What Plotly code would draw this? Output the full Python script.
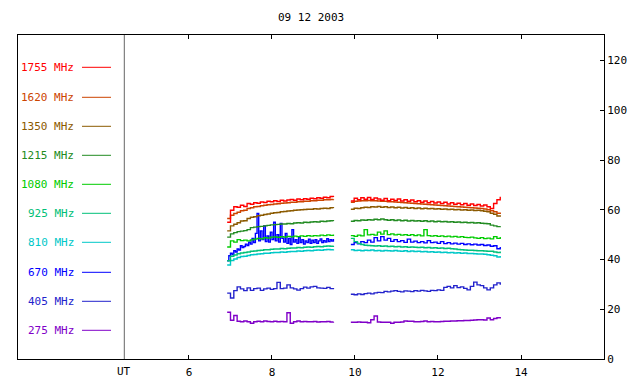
import plotly.graph_objects as go

# ---------------- data ----------------
title_text = "09 12 2003"
x_tick_vals = [6, 8, 10, 12, 14]
y_tick_vals = [0, 20, 40, 60, 80, 100, 120]

t_a = [6.92, 7.00, 7.08, 7.16, 7.24, 7.32, 7.40, 7.48, 7.56, 7.64,
       7.72, 7.80, 7.88, 7.96, 8.04, 8.12, 8.20, 8.28, 8.36, 8.44,
       8.52, 8.60, 8.68, 8.76, 8.84, 8.92, 9.00, 9.08, 9.16, 9.24,
       9.32, 9.40, 9.48]
t_b = [9.90, 9.98, 10.06, 10.14, 10.22, 10.30, 10.38, 10.46, 10.54, 10.62,
       10.70, 10.78, 10.86, 10.94, 11.02, 11.10, 11.18, 11.26, 11.34, 11.42,
       11.50, 11.58, 11.66, 11.74, 11.82, 11.90, 11.98, 12.06, 12.14, 12.22,
       12.30, 12.38, 12.46, 12.54, 12.62, 12.70, 12.78, 12.86, 12.94, 13.02,
       13.10, 13.18, 13.26, 13.34, 13.42, 13.50]
# finer sampling for the spiky 670 MHz channel in the first segment
t_670a = [6.92, 6.96, 7.00, 7.04, 7.08, 7.12, 7.16, 7.20, 7.24, 7.28,
          7.32, 7.36, 7.40, 7.44, 7.48, 7.52, 7.56, 7.60, 7.64, 7.68,
          7.72, 7.76, 7.80, 7.84, 7.88, 7.92, 7.96, 8.00, 8.04, 8.08,
          8.12, 8.16, 8.20, 8.24, 8.28, 8.32, 8.36, 8.40, 8.44, 8.48,
          8.52, 8.56, 8.60, 8.64, 8.68, 8.72, 8.76, 8.80, 8.84, 8.88,
          8.92, 8.96, 9.00, 9.04, 9.08, 9.12, 9.16, 9.20, 9.24, 9.28,
          9.32, 9.36, 9.40, 9.44, 9.48]

f1755_a = [55.0, 59.8, 61.2, 61.0, 61.8, 61.3, 62.5, 62.2, 62.8, 62.6,
           63.1, 62.9, 63.4, 63.2, 63.6, 63.3, 63.8, 63.5, 63.9, 64.1,
           63.8, 64.3, 64.0, 64.4, 64.2, 64.6, 64.4, 64.8, 64.6, 65.0,
           64.8, 65.3, 65.1]
f1755_b = [63.5, 64.6, 64.0, 64.8, 64.2, 64.9, 64.1, 64.7, 64.3, 63.8,
           64.5, 63.6, 64.2, 63.7, 64.3, 63.5, 64.0, 63.4, 63.9, 63.2,
           63.6, 63.0, 63.5, 62.8, 63.3, 62.7, 63.1, 62.5, 63.0, 62.3,
           62.8, 62.2, 62.6, 62.0, 62.5, 61.8, 62.3, 61.7, 62.1, 61.5,
           61.9, 61.2, 60.5, 62.5, 64.0, 65.2]

f1620_a = [56.5, 57.8, 58.5, 59.0, 59.6, 59.8, 60.5, 60.8, 61.2, 61.3,
           61.6, 61.8, 62.0, 62.1, 62.3, 62.4, 62.6, 62.7, 62.8, 63.0,
           63.0, 63.2, 63.2, 63.4, 63.4, 63.6, 63.6, 63.8, 63.8, 64.0,
           64.0, 64.1, 64.2]
f1620_b = [63.0, 63.4, 63.5, 63.6, 63.6, 63.7, 63.6, 63.6, 63.5, 63.4,
           63.4, 63.2, 63.2, 63.1, 63.0, 62.9, 62.8, 62.7, 62.6, 62.5,
           62.4, 62.3, 62.2, 62.1, 62.0, 61.9, 61.8, 61.7, 61.6, 61.5,
           61.4, 61.3, 61.2, 61.1, 61.0, 60.9, 60.8, 60.7, 60.6, 60.5,
           60.3, 60.0, 59.6, 59.2, 58.6, 58.9]

f1350_a = [51.5, 53.5, 54.2, 54.8, 55.5, 55.6, 56.5, 57.0, 57.2, 57.6,
           57.8, 58.1, 58.3, 58.6, 58.8, 58.9, 59.2, 59.3, 59.5, 59.6,
           59.8, 59.9, 60.0, 60.1, 60.2, 60.2, 60.4, 60.3, 60.5, 60.6,
           60.5, 60.8, 60.7]
f1350_b = [60.2, 60.6, 60.5, 60.8, 61.0, 60.9, 61.2, 61.1, 61.3, 61.0,
           61.2, 60.9, 61.1, 60.8, 61.0, 60.7, 60.9, 60.6, 60.8, 60.5,
           60.7, 60.4, 60.6, 60.4, 60.5, 60.3, 60.4, 60.2, 60.3, 60.1,
           60.2, 60.0, 60.1, 59.9, 60.0, 59.8, 59.9, 59.7, 59.8, 59.6,
           59.4, 59.2, 58.6, 58.2, 57.5, 57.2]

f1215_a = [49.0, 50.3, 50.8, 51.2, 51.4, 51.6, 52.0, 52.8, 53.0, 53.2,
           53.3, 53.5, 53.7, 53.9, 54.0, 54.1, 54.3, 54.3, 54.5, 54.4,
           54.7, 54.8, 54.7, 55.0, 54.9, 55.1, 55.2, 55.1, 55.4, 55.3,
           55.5, 55.6, 55.5]
f1215_b = [55.4, 55.7, 55.6, 55.9, 55.8, 56.0, 55.9, 56.2, 56.0, 56.3,
           56.0, 55.8, 56.0, 55.7, 55.9, 55.6, 55.8, 55.5, 55.7, 55.5,
           55.6, 55.4, 55.6, 55.3, 55.5, 55.2, 55.4, 55.2, 55.3, 55.1,
           55.2, 55.0, 55.1, 54.9, 55.0, 54.8, 54.9, 54.7, 54.8, 54.6,
           54.5, 54.4, 53.8, 53.5, 53.2, 53.4]

f1080_a = [45.0, 47.5, 47.0, 48.0, 47.6, 47.8, 47.5, 47.9, 48.2, 48.5,
           48.3, 48.8, 48.6, 49.0, 49.1, 48.9, 49.2, 49.0, 49.3, 49.1,
           49.4, 49.2, 49.5, 49.3, 49.6, 49.4, 49.6, 49.5, 49.8, 49.6,
           49.9, 49.7, 50.0]
f1080_b = [49.6, 49.3, 49.8, 49.5, 52.0, 49.9, 50.1, 49.8, 51.0, 50.2,
           51.5, 50.0, 50.3, 49.9, 50.1, 49.8, 50.0, 49.7, 50.0, 49.6,
           49.9, 49.5, 52.0, 49.6, 49.4, 49.6, 49.3, 49.5, 49.2, 49.4,
           49.1, 49.3, 49.0, 49.2, 48.9, 48.8, 49.0, 48.7, 48.5, 48.8,
           48.4, 48.6, 48.3, 49.2, 48.5, 49.0]

f925_a = [39.5, 41.3, 41.8, 42.3, 42.6, 42.8, 43.0, 43.3, 43.4, 43.6,
          43.7, 43.9, 43.9, 44.1, 44.2, 44.2, 44.4, 44.3, 44.5, 44.6,
          44.6, 44.8, 44.7, 44.9, 45.0, 44.9, 45.1, 45.2, 45.1, 45.3,
          45.4, 45.3, 45.5]
f925_b = [48.5, 47.2, 46.5, 46.0, 45.7, 45.6, 45.5, 45.4, 45.5, 45.3,
          45.4, 45.2, 45.3, 45.1, 45.2, 45.0, 45.1, 44.9, 45.0, 44.9,
          44.8, 44.9, 44.7, 44.8, 44.6, 44.7, 44.5, 44.6, 44.4, 44.5,
          44.3, 44.2, 44.0, 43.9, 43.8, 43.7, 43.7, 43.6, 43.5, 43.5,
          43.4, 43.3, 43.3, 43.0, 42.8, 43.2]

f810_a = [37.8, 39.6, 40.2, 40.8, 41.2, 41.3, 41.6, 41.9, 42.0, 42.2,
          42.3, 42.5, 42.5, 42.7, 42.8, 42.8, 43.0, 42.9, 43.1, 43.2,
          43.2, 43.4, 43.3, 43.5, 43.6, 43.5, 43.7, 43.8, 43.7, 43.9,
          44.0, 43.9, 44.1]
f810_b = [43.9, 43.6, 43.7, 43.5, 43.7, 43.6, 43.8, 43.5, 43.6, 43.4,
          43.6, 43.5, 43.4, 43.6, 43.4, 43.3, 43.5, 43.2, 43.4, 43.2,
          43.3, 43.1, 43.2, 43.0, 43.1, 42.9, 43.0, 42.8, 42.9, 42.7,
          42.8, 42.6, 42.7, 42.5, 42.6, 42.4, 42.4, 42.3, 42.2, 42.2,
          42.1, 41.9, 41.7, 41.5, 41.0, 41.4]

f670_a = [39.5, 41.5, 42.5, 42.0, 43.5, 43.0, 44.2, 43.8, 45.5, 44.8,
          45.2, 46.2, 45.6, 47.0, 46.2, 48.5, 46.8, 50.5, 58.5, 47.5,
          51.5, 48.0, 53.5, 47.2, 49.5, 47.0, 51.0, 48.0, 55.0, 47.5,
          50.0, 47.0, 54.5, 48.5, 47.0, 50.5, 46.5, 48.5, 46.0, 52.0,
          47.0, 48.0, 46.5, 49.0, 46.8, 48.0, 46.2, 47.5, 46.8, 48.2,
          46.5, 47.8, 46.8, 48.0, 46.5, 47.5, 48.3, 46.8, 47.6, 47.0,
          48.4, 47.2, 48.0, 47.4, 48.2]
f670_b = [46.0, 46.8, 46.3, 47.2, 46.8, 47.8, 47.0, 48.8, 47.5, 49.2,
          47.8, 48.5, 47.3, 48.0, 47.2, 47.6, 46.9, 48.2, 47.0, 47.4,
          46.8, 47.2, 46.7, 47.6, 46.8, 47.0, 46.5, 47.2, 46.4, 46.8,
          46.3, 46.6, 46.2, 46.5, 46.0, 46.3, 45.9, 46.2, 45.8, 46.0,
          45.6, 45.8, 45.3, 45.5, 44.3, 45.0]

f405_a = [26.5, 24.5, 27.5, 29.0, 28.2, 27.5, 28.6, 27.6, 28.3, 28.5,
          27.6, 28.2, 28.5, 28.0, 28.3, 30.8, 28.3, 28.5, 29.8, 28.6,
          28.2, 27.7, 28.3, 28.9, 28.5, 29.0, 29.2, 28.6, 28.5, 28.4,
          28.8, 28.3, 28.0]
f405_b = [26.0, 25.8, 26.2, 25.9, 26.3, 26.5, 26.2, 26.6, 26.8, 26.7,
          27.2, 27.0, 27.3, 27.5, 27.2, 27.0, 27.4, 27.3, 27.1, 27.5,
          27.3, 27.6, 27.4, 27.2, 27.6, 27.5, 27.8, 27.6, 28.8, 29.2,
          28.6, 29.5, 28.7, 29.0, 28.4, 27.8, 29.2, 30.9, 29.8, 29.5,
          28.6, 27.8, 28.6, 29.8, 30.6, 29.8]

f275_a = [18.8, 15.6, 17.5, 15.2, 15.0, 15.3, 15.0, 14.4, 15.0, 15.2,
          15.0, 15.3, 15.1, 15.0, 15.2, 15.0, 15.1, 15.0, 18.6, 14.4,
          15.0, 15.3, 15.0, 15.1, 15.0, 15.0, 15.1, 14.9, 15.0, 15.0,
          15.1, 14.9, 15.0]
f275_b = [14.8, 14.8, 14.9, 14.8, 14.8, 14.6, 15.8, 17.3, 14.9, 14.8,
          14.8, 14.8, 14.4, 14.8, 14.8, 14.9, 15.3, 15.2, 15.2, 15.0,
          15.0, 15.1, 15.3, 15.0, 15.1, 15.0, 15.0, 15.1, 15.2, 15.2,
          15.3, 15.3, 15.4, 15.4, 15.5, 15.5, 15.6, 15.7, 15.8, 15.8,
          15.7, 16.5, 15.8, 16.3, 16.6, 16.9]

freq_labels = ["1755 MHz", "1620 MHz", "1350 MHz", "1215 MHz", "1080 MHz",
               "925 MHz", "810 MHz", "670 MHz", "405 MHz", "275 MHz"]
freq_colors = ["#ff0000", "#cc4400", "#8b5a00", "#228b22", "#00cc00",
               "#00c078", "#00c8c8", "#0000ff", "#2222cc", "#8000c8"]
series_a = [f1755_a, f1620_a, f1350_a, f1215_a, f1080_a,
            f925_a, f810_a, f670_a, f405_a, f275_a]
series_b = [f1755_b, f1620_b, f1350_b, f1215_b, f1080_b,
            f925_b, f810_b, f670_b, f405_b, f275_b]
times_a = [t_a, t_a, t_a, t_a, t_a, t_a, t_a, t_670a, t_a, t_a]

for s, t in zip(series_a, times_a):
    assert len(s) == len(t), len(s)
for s in series_b:
    assert len(s) == len(t_b), len(s)

# ---------------- layout geometry (pixels) ----------------
W, H = 640, 384
L, R, T, B = 18, 604, 35, 359
pw, ph = R - L, B - T

def px_x(x):
    return (x - L) / pw

def px_y(y):
    return (B - y) / ph

fig = go.Figure()

# draw from lowest frequency to highest (red on top)
order = [9, 8, 7, 6, 5, 4, 3, 2, 1, 0]
for i in order:
    xs = times_a[i] + [None] + t_b
    ys = series_a[i] + [None] + series_b[i]
    fig.add_trace(go.Scatter(
        x=xs, y=ys, mode="lines", line=dict(color=freq_colors[i], width=1.4, shape="hv"),
        connectgaps=False, showlegend=False, hoverinfo="skip"))

FONT = "DejaVu Sans Mono"

shapes = []
annotations = []
# vertical separator
shapes.append(dict(type="line", xref="paper", yref="paper",
                   x0=px_x(124.3), x1=px_x(124.3), y0=0, y1=1,
                   line=dict(color="#666666", width=1)))
# legend rows
row_y = [67.3, 97.3, 126.3, 155.3, 184.3, 213.3, 242.3, 272.3, 301.3, 330.3]
for lab, col, yy in zip(freq_labels, freq_colors, row_y):
    annotations.append(dict(text=lab, xref="paper", yref="paper",
                            x=px_x(76), y=px_y(yy), xanchor="right", yanchor="middle",
                            showarrow=False, font=dict(family=FONT, size=11, color=col)))
    shapes.append(dict(type="line", xref="paper", yref="paper",
                       x0=px_x(82), x1=px_x(111), y0=px_y(yy), y1=px_y(yy),
                       line=dict(color=col, width=1)))

annotations.append(dict(text=title_text, xref="paper", yref="paper",
                        x=0.5, y=px_y(18), xanchor="center", yanchor="middle",
                        showarrow=False, font=dict(family=FONT, size=11, color="black")))
annotations.append(dict(text="UT", xref="paper", yref="paper",
                        x=px_x(124.3), y=px_y(371), xanchor="center", yanchor="middle",
                        showarrow=False, font=dict(family=FONT, size=11, color="black")))

fig.update_layout(
    template="none",
    width=W, height=H,
    margin=dict(l=L, r=W - R, t=T, b=H - B, pad=0, autoexpand=False),
    paper_bgcolor="white", plot_bgcolor="white",
    font=dict(family=FONT, size=11, color="black"),
    showlegend=False,
    shapes=shapes, annotations=annotations,
    xaxis=dict(range=[1.88, 16.0], tickvals=x_tick_vals, ticks="inside", ticklen=4,
               tickcolor="black", showline=True, linecolor="black", linewidth=1,
               mirror="ticks", showgrid=False, zeroline=False, automargin=False,
               ticklabelstandoff=3,
               tickfont=dict(family=FONT, size=11, color="black")),
    yaxis=dict(range=[0, 130.25], tickvals=y_tick_vals, side="right", ticks="inside",
               ticklen=4, tickcolor="black", showline=True, linecolor="black", linewidth=1,
               mirror=True, showgrid=False, zeroline=False, automargin=False,
               tickfont=dict(family=FONT, size=11, color="black")),
)

fig.write_html("out.html", config={"displayModeBar": False},
               post_script="document.body.style.margin='0';document.body.style.padding='0';")
